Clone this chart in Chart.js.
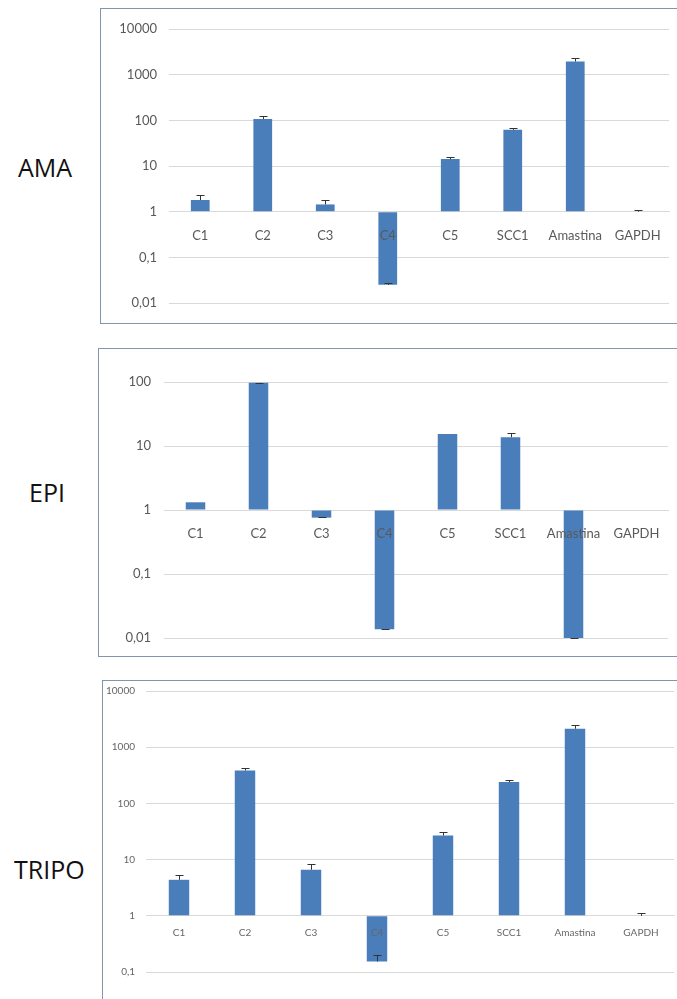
<!DOCTYPE html>
<html>
<head>
<meta charset="utf-8">
<script src="https://cdn.jsdelivr.net/npm/chart.js@4.4.1/dist/chart.umd.min.js"></script>
<style>
  html, body { margin: 0; padding: 0; background: #fff; width: 677px; height: 999px; overflow: hidden; position: relative; }
  .side { position: absolute; font-family: "Open Sans", sans-serif; font-size: 25px; color: #111; line-height: 1; }
  .panel { position: absolute; border: 1px solid #7f96ad; background: #fff; }
  .panel canvas { display: block; }
</style>
</head>
<body>
<div class="side" style="left:18px;top:155px">AMA</div>
<div class="side" style="left:29px;top:480px">EPI</div>
<div class="side" style="left:14px;top:857px">TRIPO</div>

<div class="panel" style="left:100px;top:8px;width:590px;height:314px"><canvas id="amaChart" width="590" height="314"></canvas></div>
<div class="panel" style="left:98px;top:348px;width:590px;height:307px"><canvas id="epiChart" width="590" height="307"></canvas></div>
<div class="panel" style="left:102px;top:680px;width:590px;height:330px"><canvas id="tripoChart" width="590" height="330"></canvas></div>

<script>
const categories = ['C1', 'C2', 'C3', 'C4', 'C5', 'SCC1', 'Amastina', 'GAPDH'];

const amaValues = [1.8, 107, 1.44, 0.025, 14.2, 62, 1940, 1];
const amaErrors = [0.5, 18, 0.36, 0.002, 1.5, 7, 360, 0.09];
const amaTicks = [0.01, 0.1, 1, 10, 100, 1000, 10000];
const amaTickLabels = ['0,01', '0,1', '1', '10', '100', '1000', '10000'];

const epiValues = [1.32, 97, 0.76, 0.0137, 15.4, 13.7, 0.0099, 1];
const epiErrors = [0, 1, 0.01, 0.0003, 0, 2.4, 0.0002, 0];
const epiTicks = [0.01, 0.1, 1, 10, 100];
const epiTickLabels = ['0,01', '0,1', '1', '10', '100'];

const tripoValues = [4.37, 385, 6.6, 0.154, 26.8, 240, 2130, 1];
const tripoErrors = [0.85, 50, 1.7, 0.048, 4, 22, 370, 0.12];
const tripoTicks = [0.1, 1, 10, 100, 1000, 10000];
const tripoTickLabels = ['0,1', '1', '10', '100', '1000', '10000'];

// simple plus-direction error bars, drawn on top of the bars
const errorBars = {
  id: 'errorBars',
  afterDatasetsDraw(chart, args, opts) {
    const ctx = chart.ctx;
    const y = chart.scales.y;
    const ds = chart.data.datasets[0];
    const meta = chart.getDatasetMeta(0);
    ctx.save();
    ctx.strokeStyle = '#333';
    ctx.lineWidth = 1;
    meta.data.forEach((bar, i) => {
      const err = opts.errors[i];
      if (!err) return;
      const v = ds.data[i];
      const y0 = y.getPixelForValue(v);
      const y1 = Math.round(y.getPixelForValue(v + err)) + 0.5;
      const x = Math.round(bar.x) + 0.5;
      ctx.beginPath();
      ctx.moveTo(x, y0);
      ctx.lineTo(x, y1);
      ctx.moveTo(x - opts.cap, y1);
      ctx.lineTo(x + opts.cap, y1);
      ctx.stroke();
    });
    ctx.restore();
  }
};

function makeChart(id, cfg) {
  const ctx = document.getElementById(id).getContext('2d');
  return new Chart(ctx, {
    type: 'bar',
    data: {
      labels: categories,
      datasets: [{
        data: cfg.values,
        base: 1,
        backgroundColor: '#4a7ebb',
        borderWidth: 0,
        barPercentage: cfg.barPct,
        categoryPercentage: 1
      }]
    },
    plugins: [errorBars],
    options: {
      responsive: false,
      animation: false,
      layout: { padding: { left: 0, top: cfg.pad[0], right: cfg.pad[1], bottom: cfg.pad[2] } },
      plugins: {
        legend: { display: false },
        tooltip: { enabled: false },
        errorBars: { errors: cfg.errors, cap: cfg.cap }
      },
      scales: {
        x: {
          position: { y: 1 },
          grid: { display: false, drawTicks: false },
          border: { color: '#d9d9d9' },
          ticks: {
            z: 1, // labels sit over the downward bars, like the original
            color: cfg.textColor,
            padding: cfg.xPad,
            maxRotation: 0,
            autoSkip: false,
            font: { family: 'Lato', size: cfg.fontSize }
          }
        },
        y: {
          type: 'logarithmic',
          min: cfg.ticks[0],
          max: cfg.ticks[cfg.ticks.length - 1],
          afterFit: s => {
            s.width = cfg.left;
            s.paddingTop = 0;
            s.paddingBottom = 0;
          },
          afterBuildTicks: s => { s.ticks = cfg.ticks.map(v => ({ value: v })); },
          grid: { color: '#d9d9d9', drawTicks: false },
          border: { display: false },
          ticks: {
            color: cfg.textColor,
            padding: cfg.yPad,
            font: { family: 'Lato', size: cfg.fontSize },
            callback: (v, i) => cfg.tickLabels[i]
          }
        }
      }
    }
  });
}

makeChart('amaChart', {
  values: amaValues, errors: amaErrors, ticks: amaTicks, tickLabels: amaTickLabels,
  left: 68, pad: [20, 22, 20], barPct: 0.3, cap: 4, fontSize: 13, xPad: 16, yPad: 12, textColor: '#595959'
});
makeChart('epiChart', {
  values: epiValues, errors: epiErrors, ticks: epiTicks, tickLabels: epiTickLabels,
  left: 65, pad: [33, 21, 18], barPct: 0.31, cap: 4, fontSize: 13, xPad: 16, yPad: 13, textColor: '#595959'
});
makeChart('tripoChart', {
  values: tripoValues, errors: tripoErrors, ticks: tripoTicks, tickLabels: tripoTickLabels,
  left: 43, pad: [10, 19, 39], barPct: 0.31, cap: 4, fontSize: 10, xPad: 11, yPad: 11, textColor: '#666'
});
</script>
</body>
</html>
